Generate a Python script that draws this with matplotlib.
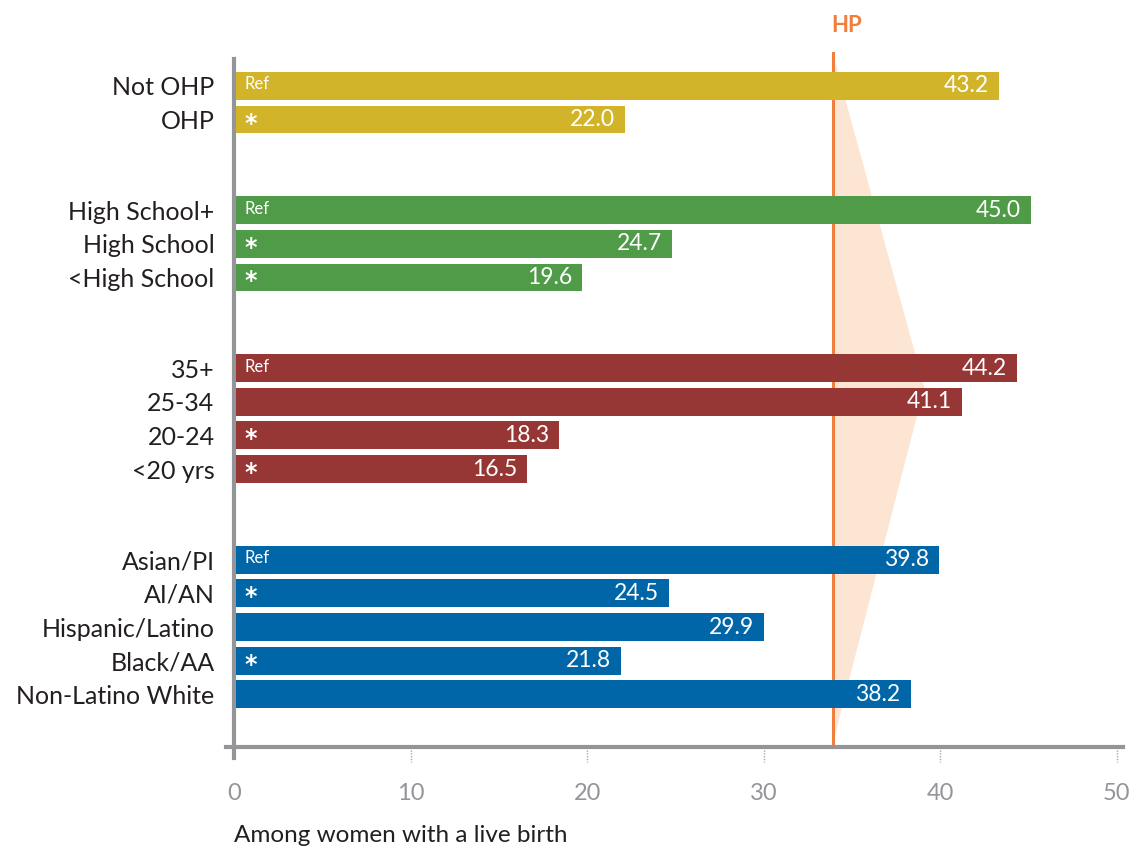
import matplotlib
matplotlib.use("Agg")
import matplotlib.pyplot as plt
import numpy as np

# ---- data ----
labels = ["Not OHP", "OHP", "High School+", "High School", "<High School",
          "35+", "25-34", "20-24", "<20 yrs",
          "Asian/PI", "AI/AN", "Hispanic/Latino", "Black/AA", "Non-Latino White"]
values = [43.2, 22.0, 45.0, 24.7, 19.6, 44.2, 41.1, 18.3, 16.5,
          39.8, 24.5, 29.9, 21.8, 38.2]
groups = [0, 0, 1, 1, 1, 2, 2, 2, 2, 3, 3, 3, 3, 3]
marks = ["Ref", "*", "Ref", "*", "*", "Ref", "", "*", "*",
         "Ref", "*", "", "*", ""]
group_colors = ["#D2B42A", "#4F9B48", "#963736", "#0066A7"]
hp_value = 33.9
wedge_peak = 39.1
xticks = [0, 10, 20, 30, 40, 50]
xlabel = "Among women with a live birth"

plt.rcParams['font.family'] = ['Lato', 'DejaVu Sans']

fig = plt.figure(figsize=(11.42, 8.5), dpi=100)
ax = fig.add_axes([226/1142, 1-747/850, (1123-226)/1142, (747-59)/850])

gray = "#939598"
for s in ["top", "right"]:
    ax.spines[s].set_visible(False)
ax.spines["left"].set_position(("data", 0))
ax.spines["left"].set_color(gray)
ax.spines["left"].set_linewidth(3)
ax.spines["bottom"].set_color(gray)
ax.spines["bottom"].set_linewidth(3)

gap = 1.7
pos = np.array([i + g*gap for i, g in enumerate(groups)])
colors = [group_colors[g] for g in groups]

ax.set_xlim(-0.45, 50.35)
ax.set_ylim(19.67, -0.80)
ax.spines["left"].set_bounds(20.0, -0.80)

# wedge & HP line
ax.fill([hp_value, wedge_peak, hp_value], [-0.98, 8.96, 19.6],
        color="#FDE5D4", lw=0, zorder=1, clip_on=False)
ax.axvline(hp_value, ymin=0.003, ymax=1.0087, color="#F07F3C", lw=2.2,
           zorder=2, clip_on=False)
ax.text(hp_value - 0.08, -1.8, "HP", color="#F07F3C", fontsize=16,
        fontweight="bold", ha="left", va="center", clip_on=False)

ax.barh(pos, values, height=0.83, left=0.12, color=colors, zorder=3)

for p, v, m in zip(pos, values, marks):
    ax.text(v - 0.45, p, f"{v:.1f}", color="white", fontsize=16.5,
            ha="right", va="center", zorder=4)
    if m == "Ref":
        ax.text(0.6, p - 0.05, "Ref", color="white", fontsize=12,
                ha="left", va="center", zorder=4)
    elif m == "*":
        ax.text(0.95, p + 0.12, "*", color="white", fontsize=17,
                fontweight="bold", family="DejaVu Sans",
                ha="center", va="center", zorder=4)

ax.set_yticks(pos)
ax.set_yticklabels(labels, fontsize=18, color="#231F20")
ax.tick_params(axis="y", length=0, pad=14)

ax.set_xticks(xticks)
ax.set_xticklabels([str(t) for t in xticks], fontsize=17, color=gray)
ax.tick_params(axis="x", length=0, pad=26)

# dotted tick marks
for t in xticks[1:]:
    ax.plot([t, t], [-0.005, -0.022], transform=ax.get_xaxis_transform(),
            color="#AAAAAA", lw=1, ls=(0, (1, 1)), clip_on=False)

fig.text(234/1142, 1-835/850, xlabel, fontsize=17.5, color="#231F20",
         ha="left", va="center")

fig.savefig("out.png", dpi=100)
